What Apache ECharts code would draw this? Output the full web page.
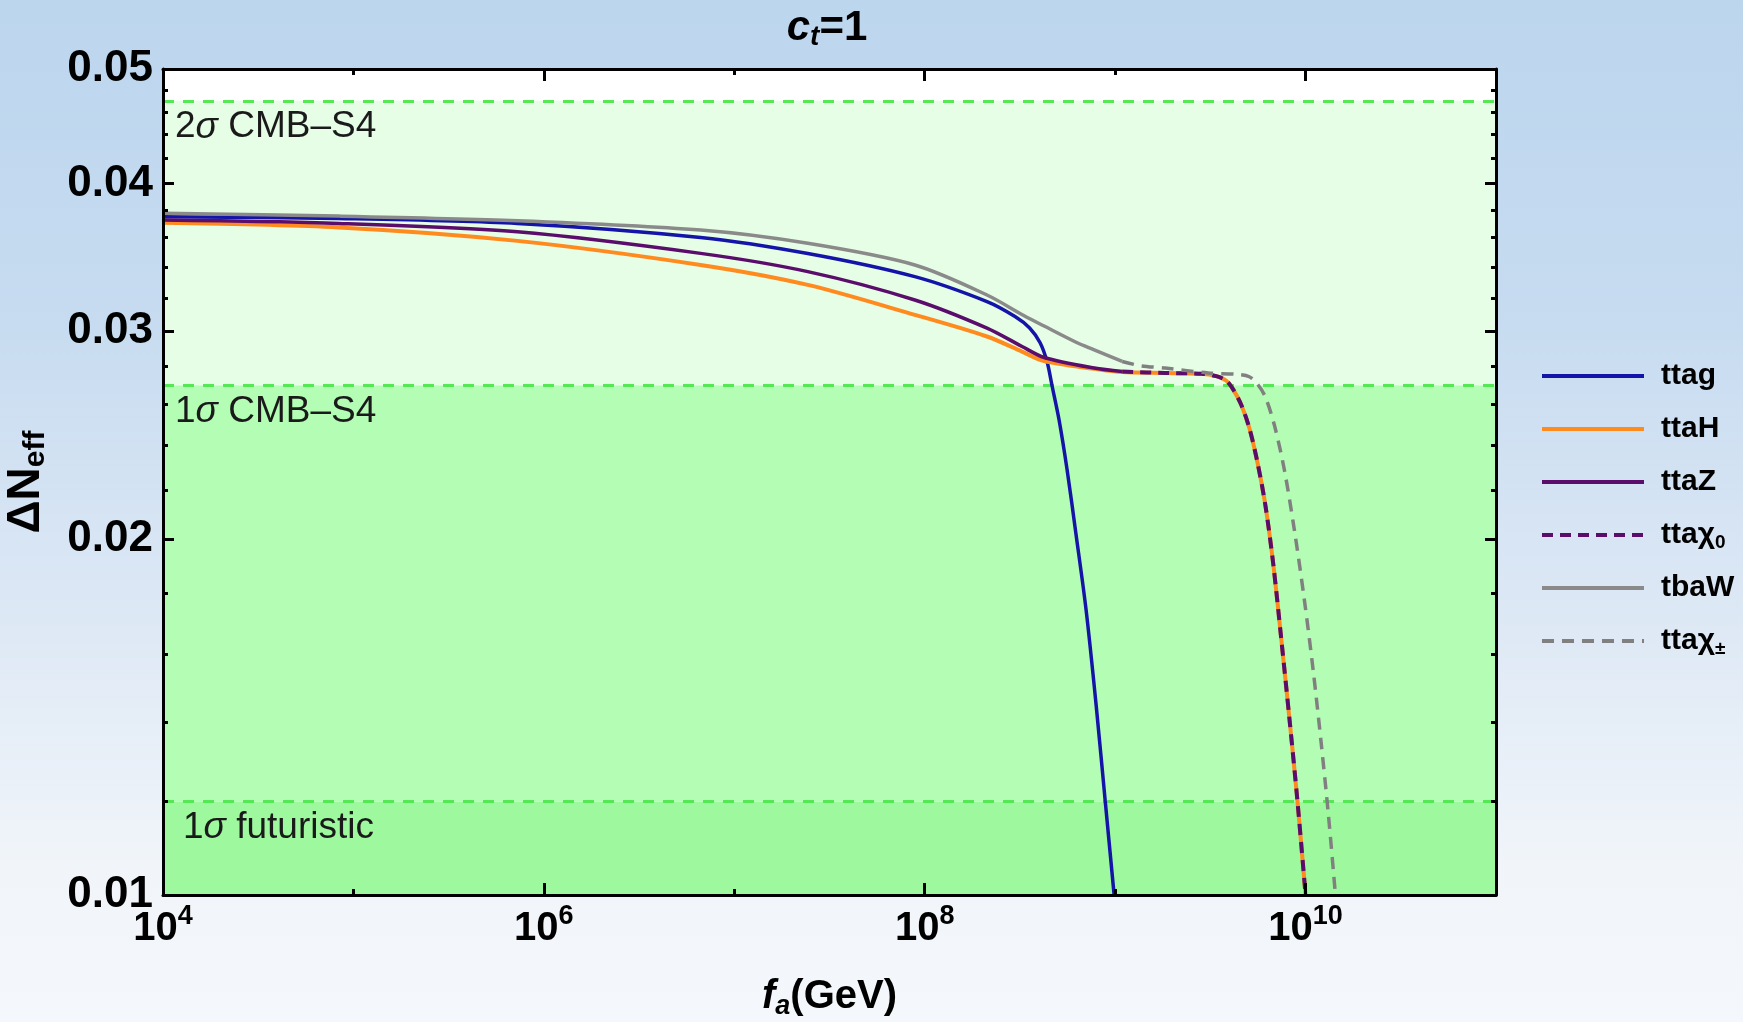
<!DOCTYPE html>
<html>
<head>
<meta charset="utf-8">
<script src="https://cdn.jsdelivr.net/npm/echarts@6/dist/echarts.min.js"></script>
<style>
html, body { margin: 0; padding: 0; width: 1743px; height: 1022px; overflow: hidden; }
#chart { width: 1743px; height: 1022px; }
</style>
</head>
<body>
<div id="chart"></div>
<script>
// ΔN_eff versus the axion decay constant f_a (GeV), c_t = 1.
// Each curve is a list of [f_a, ΔN_eff] pairs.
const ttag = [
  [1e4, 0.0375], [8.375e4, 0.03737], [7.261e5, 0.03701], [6.653e6, 0.03601],
  [2.432e7, 0.0349], [8.872e7, 0.03336], [2.123e8, 0.03178], [2.979e8, 0.03087],
  [3.556e8, 0.03019], [4.036e8, 0.02933], [4.391e8, 0.02826], [4.666e8, 0.02696],
  [5.077e8, 0.02523], [5.593e8, 0.02290], [6.237e8, 0.02017], [7.040e8, 0.01742],
  [7.946e8, 0.01448], [8.860e8, 0.01203], [9.879e8, 0.0100]
];
const ttaH = [
  [1e4, 0.03705], [8.375e4, 0.03672], [7.261e5, 0.03577], [6.653e6, 0.03413],
  [2.432e7, 0.03283], [8.872e7, 0.03097], [2.123e8, 0.02969], [3.243e8, 0.02883],
  [4.236e8, 0.02830], [7.762e8, 0.02788], [1.089e9, 0.02770], [1.832e9, 0.02765],
  [2.833e9, 0.02761], [3.396e9, 0.02748], [3.833e9, 0.02724], [4.173e9, 0.02677],
  [4.598e9, 0.02598], [5.066e9, 0.02484], [5.580e9, 0.02326], [6.148e9, 0.02138],
  [6.772e9, 0.01903], [7.462e9, 0.01644], [8.220e9, 0.01412], [9.056e9, 0.01203],
  [1.0e10, 0.0100]
];
const ttaZ = [
  [1e4, 0.03725], [8.375e4, 0.03701], [7.261e5, 0.03641], [6.653e6, 0.03491],
  [2.432e7, 0.03369], [8.872e7, 0.03188], [2.123e8, 0.03018], [3.243e8, 0.02912],
  [4.236e8, 0.02850], [7.762e8, 0.02792], [1.089e9, 0.02773]
];
const ttaChi0 = [
  [1.089e9, 0.02773], [1.832e9, 0.02765], [2.833e9, 0.02761], [3.396e9, 0.02748],
  [3.833e9, 0.02724], [4.173e9, 0.02677], [4.598e9, 0.02598], [5.066e9, 0.02484],
  [5.580e9, 0.02326], [6.148e9, 0.02138], [6.772e9, 0.01903], [7.462e9, 0.01644],
  [8.220e9, 0.01412], [9.056e9, 0.01203], [1.0e10, 0.0100]
];
const tbaW = [
  [1e4, 0.03774], [8.375e4, 0.03754], [7.261e5, 0.03720], [6.653e6, 0.03653],
  [2.432e7, 0.0356], [8.872e7, 0.03413], [2.123e8, 0.03219], [3.311e8, 0.03093],
  [4.236e8, 0.0303], [6.237e8, 0.02936], [7.762e8, 0.02893], [1.089e9, 0.02828]
];
const ttaChiPM = [
  [1.089e9, 0.02828], [1.371e9, 0.02804], [1.832e9, 0.02792], [3.083e9, 0.02765],
  [4.327e9, 0.02758], [5.066e9, 0.02745], [5.580e9, 0.02707], [6.148e9, 0.02639],
  [6.855e9, 0.02499], [7.737e9, 0.02290], [8.734e9, 0.02036], [9.856e9, 0.01777],
  [1.099e10, 0.01544], [1.211e10, 0.01339], [1.318e10, 0.01169], [1.435e10, 0.0100]
];

// Sensitivity levels (CMB-S4 and a futuristic survey)
const bandEdges = [0.01, 0.012, 0.027, 0.047];
const bandLevels = [0.047, 0.027, 0.012];
const bandLabels = ['2σ CMB–S4', '1σ CMB–S4', '1σ futuristic'];

// Axis ranges and ticks
const xRange = [1e4, 1e11];
const yRange = [0.01, 0.05];
const xMajorTicks = [1e4, 1e6, 1e8, 1e10];
const xMinorTicks = [1e5, 1e7, 1e9];
const yMajorTicks = [0.01, 0.02, 0.03, 0.04, 0.05];
const yMinorTicks = [0.012, 0.014, 0.016, 0.018, 0.022, 0.024, 0.026, 0.028,
  0.032, 0.034, 0.036, 0.038, 0.042, 0.044, 0.046, 0.048];

const seriesNames = ['ttag', 'ttaH', 'ttaZ', 'ttaχ0', 'tbaW', 'ttaχ±'];

const FONT = '"Liberation Sans", Arial, Helvetica, sans-serif';
const bandColors = ['#9ef99e', '#b4fdb4', '#e6fde6'];

function curve(name, data, color, width, dash) {
  return {
    name: name, type: 'line', data: data, symbol: 'none', showSymbol: false,
    smooth: 0.3, z: 3, clip: true,
    lineStyle: { color: color, width: width, type: dash || 'solid' },
    itemStyle: { color: color },
    emphasis: { disabled: true }
  };
}

function frameAxis(dim, pos, ticks, length, opts) {
  const ax = {
    type: 'log', logBase: 10, position: pos, z: 5,
    min: dim === 'x' ? xRange[0] : yRange[0],
    max: dim === 'x' ? xRange[1] : yRange[1],
    axisLine: { show: !!opts.line, onZero: false, lineStyle: { color: '#000', width: 3 } },
    axisTick: { show: true, inside: true, length: length, customValues: ticks,
      lineStyle: { color: '#000', width: 3 } },
    axisLabel: { show: false },
    splitLine: { show: false },
    minorTick: { show: false }
  };
  return Object.assign(ax, opts.extra || {});
}

const xLabel = {
  show: true, customValues: xMajorTicks, margin: 8,
  formatter: v => '{b|10}{s|' + Math.round(Math.log10(v)) + '}',
  rich: {
    b: { fontFamily: FONT, fontSize: 40, fontWeight: 'bold', color: '#000', lineHeight: 52 },
    s: { fontFamily: FONT, fontSize: 27, fontWeight: 'bold', color: '#000', lineHeight: 27, verticalAlign: 'top' }
  }
};
const yLabel = {
  show: true, customValues: yMajorTicks, margin: 10,
  formatter: v => v.toFixed(2),
  fontFamily: FONT, fontSize: 44, fontWeight: 'bold', color: '#000'
};

const option = {
  animation: false,
  backgroundColor: {
    type: 'linear', x: 0, y: 0, x2: 0, y2: 1,
    colorStops: [
      { offset: 0, color: '#bcd6ee' }, { offset: 0.3, color: '#c6dbf0' },
      { offset: 0.6, color: '#dde8f5' }, { offset: 0.85, color: '#f1f5fa' },
      { offset: 1, color: '#f4f7fb' }
    ]
  },
  title: {
    text: '{c|c}{t|t}{e|=1}', left: 822, top: 0, textAlign: 'center',
    textStyle: {
      rich: {
        c: { fontFamily: FONT, fontSize: 42, fontWeight: 'bold', fontStyle: 'italic', color: '#000', lineHeight: 46 },
        t: { fontFamily: FONT, fontSize: 28, fontWeight: 'bold', fontStyle: 'italic', color: '#000', lineHeight: 18, verticalAlign: 'bottom' },
        e: { fontFamily: FONT, fontSize: 42, fontWeight: 'bold', color: '#000', lineHeight: 46 }
      }
    }
  },
  grid: {
    left: 163, top: 69, width: 1333, height: 826,
    outerBoundsMode: 'none', containLabel: false,
    show: true, backgroundColor: '#ffffff', borderWidth: 0
  },
  legend: {
    orient: 'vertical', left: 1535, top: 354, itemGap: 19,
    itemWidth: 102, itemHeight: 16,
    data: seriesNames,
    lineStyle: { width: 4 },
    itemStyle: { opacity: 0 },
    formatter: n => n.replace('χ0', '{x|χ}{s|0}').replace('χ±', '{x|χ}{s|±}'),
    textStyle: {
      fontFamily: FONT, fontSize: 30, fontWeight: 'bold', color: '#000', lineHeight: 34,
      padding: [0, 0, 0, 12],
      rich: {
        x: { fontFamily: FONT, fontSize: 30, color: '#000', lineHeight: 34 },
        s: { fontFamily: FONT, fontSize: 19, color: '#000', lineHeight: 12, verticalAlign: 'bottom' }
      }
    }
  },
  xAxis: [
    frameAxis('x', 'bottom', xMajorTicks, 12, { line: true, extra: {
      axisLabel: xLabel,
      name: '{f|f}{a|a}{p|(GeV)}', nameLocation: 'middle', nameGap: 79,
      nameTextStyle: { rich: {
        f: { fontFamily: FONT, fontSize: 40, fontWeight: 'bold', fontStyle: 'italic', color: '#000', lineHeight: 46 },
        a: { fontFamily: FONT, fontSize: 27, fontWeight: 'bold', fontStyle: 'italic', color: '#000', lineHeight: 16, verticalAlign: 'bottom' },
        p: { fontFamily: FONT, fontSize: 40, fontWeight: 'bold', color: '#000', lineHeight: 46 }
      } }
    } }),
    frameAxis('x', 'bottom', xMinorTicks, 6, {}),
    frameAxis('x', 'top', xMajorTicks, 12, { line: true }),
    frameAxis('x', 'top', xMinorTicks, 6, {})
  ],
  yAxis: [
    frameAxis('y', 'left', yMajorTicks, 11, { line: true, extra: {
      axisLabel: yLabel,
      name: '{d|ΔN}{e|eff}', nameLocation: 'middle', nameRotate: 90, nameGap: 112,
      nameTextStyle: { rich: {
        d: { fontFamily: FONT, fontSize: 46, fontWeight: 'bold', color: '#000', lineHeight: 50 },
        e: { fontFamily: FONT, fontSize: 30, fontWeight: 'bold', color: '#000', lineHeight: 18, verticalAlign: 'bottom' }
      } }
    } }),
    frameAxis('y', 'left', yMinorTicks, 5, {}),
    frameAxis('y', 'right', yMajorTicks, 11, { line: true }),
    frameAxis('y', 'right', yMinorTicks, 5, {})
  ],
  series: [
    Object.assign(curve('ttag', ttag, '#1414a8', 3.5), {
      markArea: {
        silent: true, z: 1,
        data: bandColors.map((c, i) => [
          { yAxis: bandEdges[i], itemStyle: { color: c, opacity: 1 } },
          { yAxis: bandEdges[i + 1] }
        ])
      },
      markLine: {
        silent: true, z: 2, precision: 4, symbol: ['none', 'none'],
        lineStyle: { color: '#55e855', width: 3, type: [11, 9] },
        label: {
          show: true, position: 'insideStartBottom',
          formatter: p => p.name.replace('σ', '{i|σ}'),
          fontFamily: FONT, fontSize: 37, color: '#1a1a1a',
          rich: { i: { fontFamily: FONT, fontSize: 37, fontStyle: 'italic', color: '#1a1a1a' } }
        },
        data: bandLevels.map((v, i) => ({
          yAxis: v, name: bandLabels[i],
          label: { distance: [i === 2 ? 20 : 12, 8] }
        }))
      }
    }),
    curve('ttaH', ttaH, '#ff8a1e', 4),
    curve('ttaZ', ttaZ, '#5a0d6b', 3.5),
    curve('ttaχ0', ttaChi0, '#5a0d6b', 4, [11, 7]),
    curve('tbaW', tbaW, '#8a8a8a', 3.5),
    curve('ttaχ±', ttaChiPM, '#808080', 3.5, [12, 8])
  ]
};

const chart = echarts.init(document.getElementById('chart'), null, { renderer: 'canvas' });
chart.setOption(option);
</script>
</body>
</html>
